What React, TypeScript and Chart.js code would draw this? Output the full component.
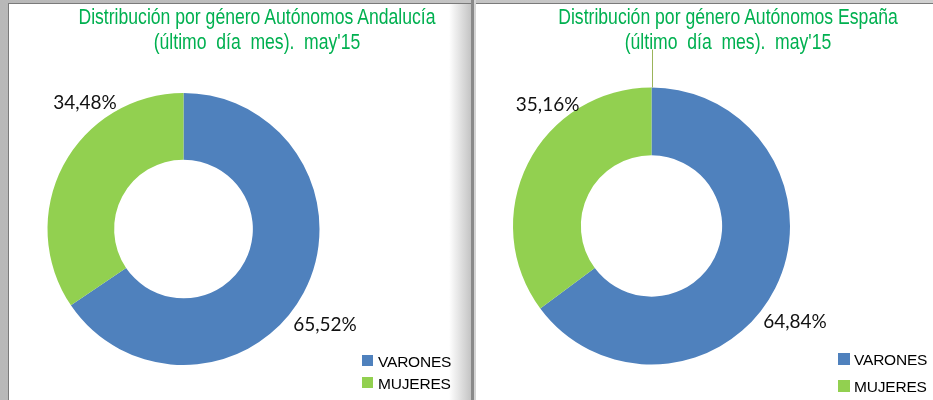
import React, { useEffect, useRef } from "react";
import { Chart, registerables } from "chart.js";

Chart.register(...registerables);

const categories = ["VARONES", "MUJERES"];
const andaluciaValues = [65.52, 34.48];
const espanaValues = [64.84, 35.16];
const andaluciaTitle = ["Distribución por género Autónomos Andalucía", "(último día mes). may'15"];
const espanaTitle = ["Distribución por género Autónomos España", "(último día mes). may'15"];
const sliceColors = ["#4F81BD", "#92D050"];

const fmt = (v: number) => v.toFixed(2).replace(".", ",") + "%";

const labelPlugin = {
  id: "pctLabels",
  afterDatasetsDraw(chart: any, _args: any, opts: any) {
    const meta = chart.getDatasetMeta(0);
    const data = chart.data.datasets[0].data as number[];
    const ctx = chart.ctx as CanvasRenderingContext2D;
    ctx.save();
    ctx.font = "19px Lato, 'Open Sans', sans-serif";
    ctx.fillStyle = "#111";
    ctx.textAlign = "center";
    ctx.textBaseline = "middle";
    meta.data.forEach((arc: any, i: number) => {
      const p = arc.getProps(["x", "y", "outerRadius"], true);
      const off = opts.offsets[i];
      ctx.fillText(fmt(data[i]), p.x + off[0] * p.outerRadius, p.y + off[1] * p.outerRadius);
    });
    if (opts.leader) {
      const p = meta.data[0].getProps(["x", "y", "outerRadius"], true);
      ctx.strokeStyle = "#9BB45A";
      ctx.lineWidth = 1;
      ctx.beginPath();
      ctx.moveTo(Math.round(p.x) + 0.5, p.y - p.outerRadius);
      ctx.lineTo(Math.round(p.x) + 0.5, p.y - p.outerRadius - opts.leader);
      ctx.stroke();
    }
    ctx.restore();
  },
};

function Donut(props: any) {
  const { values, left, top, width, height, padding, offsets, leader } = props;
  const ref = useRef<HTMLCanvasElement>(null);
  useEffect(() => {
    const chart = new Chart(ref.current as HTMLCanvasElement, {
      type: "doughnut",
      data: {
        labels: categories,
        datasets: [{ data: values, backgroundColor: sliceColors, borderWidth: 0 }],
      },
      options: {
        responsive: false,
        maintainAspectRatio: false,
        animation: false,
        cutout: "51%",
        layout: { padding },
        plugins: {
          legend: { display: false },
          tooltip: { enabled: false },
          pctLabels: { offsets, leader },
        } as any,
      },
      plugins: [labelPlugin as any],
    });
    return () => chart.destroy();
  }, []);
  return (
    <canvas
      ref={ref}
      width={width}
      height={height}
      style={{ position: "absolute", left, top, width, height }}
    />
  );
}

function Title({ lines, cx }: { lines: string[]; cx: number }) {
  return (
    <>
      {lines.map((t, i) => (
        <div
          key={i}
          style={{
            position: "absolute",
            left: cx - 300,
            width: 600,
            top: 4 + i * 25,
            textAlign: "center",
            fontFamily: "'Liberation Sans', Arial, sans-serif",
            fontSize: 22,
            lineHeight: "25px",
            color: "#00B050",
            whiteSpace: "nowrap",
            wordSpacing: i === 1 ? "6px" : "0px",
            transform: "scaleX(0.8)",
            transformOrigin: "center",
          }}
        >
          {t}
        </div>
      ))}
    </>
  );
}

function Legend({ x, y, gap, box }: { x: number; y: number; gap: number; box: number }) {
  return (
    <>
      {categories.map((c, i) => (
        <React.Fragment key={c}>
          <div
            style={{
              position: "absolute",
              left: x,
              top: y + i * gap,
              width: box,
              height: box,
              background: sliceColors[i],
            }}
          />
          <div
            style={{
              position: "absolute",
              left: x + 16,
              top: y + i * gap - 1,
              fontFamily: "'Liberation Sans', Arial, sans-serif",
              fontSize: 15.5,
              lineHeight: "15.5px",
              letterSpacing: "-0.2px",
              color: "#000",
              whiteSpace: "nowrap",
            }}
          >
            {c}
          </div>
        </React.Fragment>
      ))}
    </>
  );
}

export default function App() {
  return (
    <div
      style={{
        position: "fixed",
        left: 0,
        top: 0,
        width: 933,
        height: 400,
        overflow: "hidden",
        background: "linear-gradient(to right, #b8b8b8, #d0d0d0)",
      }}
    >
      <div
        style={{
          position: "absolute",
          left: 8,
          top: 3,
          width: 462,
          height: 397,
          borderLeft: "1px solid #7a7a7a",
          borderTop: "1px solid #7a7a7a",
          background: "linear-gradient(to right, #ffffff 0px, #ffffff 440px, #c4c4c4 462px)",
        }}
      />
      <div style={{ position: "absolute", left: 471, top: 0, width: 3, height: 400, background: "#8a8a8a" }} />
      <div style={{ position: "absolute", left: 474, top: 0, width: 2, height: 400, background: "#d4d4d4" }} />
      <div
        style={{
          position: "absolute",
          left: 476,
          top: 3,
          width: 457,
          height: 397,
          borderTop: "1px solid #7a7a7a",
          background: "#ffffff",
        }}
      />
      <Donut
        values={andaluciaValues}
        left={9}
        top={4}
        width={453}
        height={396}
        padding={{ left: 38.5, right: 142.5, top: 89, bottom: 35 }}
        offsets={[
          [1.04, 0.706],
          [-0.724, -0.926],
        ]}
        leader={0}
      />
      <Donut
        values={espanaValues}
        left={476}
        top={4}
        width={457}
        height={396}
        padding={{ left: 37, right: 143, top: 83.5, bottom: 35.5 }}
        offsets={[
          [1.036, 0.693],
          [-0.75, -0.874],
        ]}
        leader={38}
      />
      <Title lines={andaluciaTitle} cx={257} />
      <Title lines={espanaTitle} cx={728} />
      <Legend x={362} y={355} gap={22} box={11} />
      <Legend x={838} y={353} gap={27} box={12} />
    </div>
  );
}
